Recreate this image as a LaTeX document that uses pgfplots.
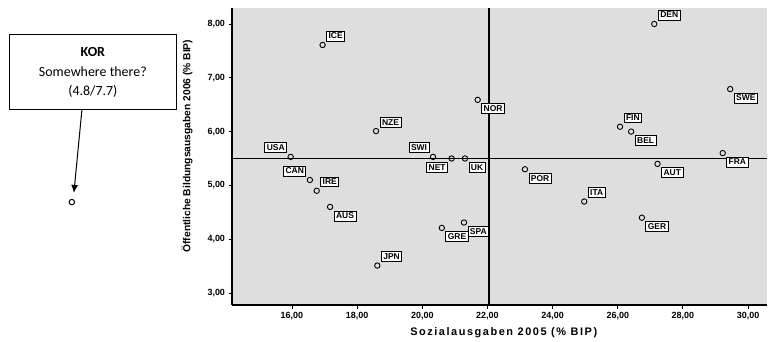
\documentclass[border=0pt]{standalone}
\usepackage{fontspec}
\setmainfont{Liberation Sans}
\newfontfamily\calibri{Carlito}
\usepackage{pgfplots}
\pgfplotsset{compat=1.18}
\usetikzlibrary{arrows.meta}

\begin{document}
\begin{tikzpicture}
\useasboundingbox (0,0) rectangle (768bp,342bp);
\begin{axis}[
  at={(232bp,37bp)}, anchor=south west,
  width=535bp, height=297bp, scale only axis,
  xmin=14.16, xmax=30.58, ymin=2.777, ymax=8.297,
  clip=false,
  axis x line*=bottom, axis y line*=left,
  axis line style={-, line width=1.5bp},
  axis background/.style={fill=black!13},
  xtick={16,18,...,30}, ytick={3,4,...,8},
  tick align=outside, major tick length=3.5bp,
  tick style={black, line width=0.9bp},
  /pgf/number format/.cd, fixed, fixed zerofill, precision=2, use comma, assume math mode=true,
  /pgfplots/.cd,
  ticklabel style={font=\bfseries\fontsize{9}{10}\selectfont},
  xlabel={\addfontfeatures{LetterSpace=14}Sozialausgaben 2005 (\% BIP)},
  xlabel style={font=\bfseries\fontsize{11}{12}\selectfont, at={(axis description cs:0.508,-0.094)}, anchor=center},
  ylabel={Öffentliche Bildungsausgaben 2006 (\% BIP)},
  ylabel style={font=\bfseries\fontsize{10.3}{12}\selectfont, at={(axis description cs:-0.084,0.535)}, anchor=center},
  pts/.style={only marks, mark=o, mark size=2.7bp, mark options={black, fill=white, line width=0.9bp},
    point meta=explicit symbolic, nodes near coords,
    nodes near coords style={anchor=#1, draw=black, fill=white, line width=0.8bp,
      font=\bfseries\fontsize{8.5}{9}\selectfont, inner sep=2bp, outer sep=4bp}},
]
\addplot[black, line width=1.4bp] coordinates {(22.05,2.777) (22.05,8.297)};
\addplot[black, line width=1.4bp] coordinates {(14.16,5.5) (30.58,5.5)};
% labels upper right
\addplot[pts=south west] coordinates {
 (16.94,7.61) [ICE] (18.58,6.01) [NZE] (16.76,4.90) [IRE] (18.62,3.51) [JPN]
 (24.97,4.70) [ITA] (27.12,8.00) [DEN] (26.07,6.09) [FIN]};
% labels upper left
\addplot[pts=south east] coordinates {
 (15.96,5.53) [USA] (20.33,5.53) [SWI] (16.55,5.10) [CAN]};
% labels lower left
\addplot[pts=north east] coordinates {(20.90,5.50) [NET]};
% labels lower right
\addplot[pts=north west] coordinates {
 (21.31,5.50) [UK] (17.17,4.60) [AUS] (20.60,4.21) [GRE] (21.28,4.31) [SPA]
 (23.15,5.30) [POR] (27.22,5.40) [AUT] (26.74,4.40) [GER] (29.22,5.60) [FRA]
 (29.45,6.79) [SWE] (21.70,6.59) [NOR] (26.41,6.00) [BEL]};
% KOR (outside the axes)
\addplot[only marks, mark=o, mark size=2.7bp, mark options={black, fill=white, line width=1bp}]
  coordinates {(9.245,4.69)};
\node[draw=black, line width=0.9bp, fill=white, minimum width=167bp, minimum height=75bp,
  align=center, font=\calibri\fontsize{14}{19.5}\selectfont] at (axis cs:9.89,7.10)
  {\textbf{KOR}\\Somewhere there?\\(4.8/7.7)};
\draw[-{Latex[length=8bp,width=7bp]}, line width=1bp] (axis cs:9.553,6.40) -- (axis cs:9.307,4.86);
\end{axis}
\end{tikzpicture}
\end{document}
